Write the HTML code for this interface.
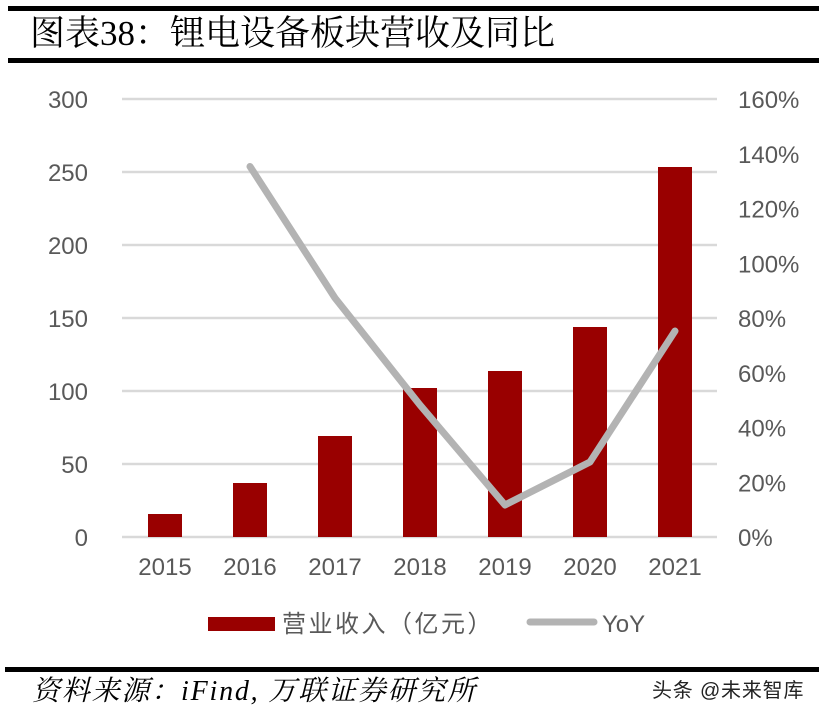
<!DOCTYPE html>
<html>
<head>
<meta charset="utf-8">
<style>
html,body{margin:0;padding:0;background:#fff;}
svg{display:block;}
.tk{font-family:"Liberation Sans","Noto Sans CJK SC",sans-serif;font-size:24px;fill:#595959;}
</style>
</head>
<body>
<svg width="819" height="719" viewBox="0 0 819 719" xmlns="http://www.w3.org/2000/svg">
  <!-- header rules -->
  <rect x="8" y="6" width="811" height="5" fill="#000"/>
  <rect x="8" y="58" width="811" height="5" fill="#000"/>
  <text x="30" y="45" font-family="'Liberation Serif','Noto Serif CJK SC',serif" font-size="35" fill="#000">图表38：锂电设备板块营收及同比</text>

  <!-- gridlines -->
  <g stroke="#d9d9d9" stroke-width="2.5">
    <line x1="122" y1="99" x2="717" y2="99"/>
    <line x1="122" y1="172" x2="717" y2="172"/>
    <line x1="122" y1="245" x2="717" y2="245"/>
    <line x1="122" y1="318" x2="717" y2="318"/>
    <line x1="122" y1="391" x2="717" y2="391"/>
    <line x1="122" y1="464" x2="717" y2="464"/>
    <line x1="122" y1="537" x2="717" y2="537"/>
  </g>

  <!-- left axis labels -->
  <g class="tk" text-anchor="end">
    <text x="88" y="108">300</text>
    <text x="88" y="181">250</text>
    <text x="88" y="254">200</text>
    <text x="88" y="327">150</text>
    <text x="88" y="400">100</text>
    <text x="88" y="473">50</text>
    <text x="88" y="546">0</text>
  </g>

  <!-- right axis labels -->
  <g class="tk" text-anchor="start">
    <text x="738" y="108">160%</text>
    <text x="738" y="162.75">140%</text>
    <text x="738" y="217.5">120%</text>
    <text x="738" y="272.25">100%</text>
    <text x="738" y="327">80%</text>
    <text x="738" y="381.75">60%</text>
    <text x="738" y="436.5">40%</text>
    <text x="738" y="491.25">20%</text>
    <text x="738" y="546">0%</text>
  </g>

  <!-- bars -->
  <g fill="#990000">
    <rect x="148" y="514" width="34" height="23"/>
    <rect x="233" y="483" width="34" height="54"/>
    <rect x="318" y="436" width="34" height="101"/>
    <rect x="403" y="388" width="34" height="149"/>
    <rect x="488" y="371" width="34" height="166"/>
    <rect x="573" y="327" width="34" height="210"/>
    <rect x="658" y="167" width="34" height="370"/>
  </g>

  <!-- YoY line -->
  <polyline points="250,166.5 335,298 420,405 505,505 590,462 675,331" fill="none" stroke="#b3b3b3" stroke-width="7" stroke-linejoin="round" stroke-linecap="round"/>

  <!-- x labels -->
  <g class="tk" text-anchor="middle">
    <text x="165" y="575">2015</text>
    <text x="250" y="575">2016</text>
    <text x="335" y="575">2017</text>
    <text x="420" y="575">2018</text>
    <text x="505" y="575">2019</text>
    <text x="590" y="575">2020</text>
    <text x="675" y="575">2021</text>
  </g>

  <!-- legend -->
  <rect x="208" y="617" width="67" height="14" fill="#990000"/>
  <text x="282" y="632" font-family="'Liberation Sans','Noto Sans CJK SC',sans-serif" font-size="24" letter-spacing="2.5" fill="#595959">营业收入（亿元）</text>
  <line x1="530" y1="622" x2="594" y2="622" stroke="#b3b3b3" stroke-width="7" stroke-linecap="round"/>
  <text x="602" y="632" class="tk">YoY</text>

  <!-- bottom rule & source -->
  <rect x="5" y="667" width="814" height="5" fill="#000"/>
  <text x="32" y="700" font-family="'Liberation Serif','Noto Serif CJK SC',serif" font-size="28" font-style="italic" fill="#000" letter-spacing="1.8">资料来源：iFind, 万联证券研究所</text>
  <text x="652" y="697" font-family="'Liberation Sans','Noto Sans CJK SC',sans-serif" font-size="20" letter-spacing="0.8" fill="#222">头条 @未来智库</text>
</svg>
</body>
</html>
